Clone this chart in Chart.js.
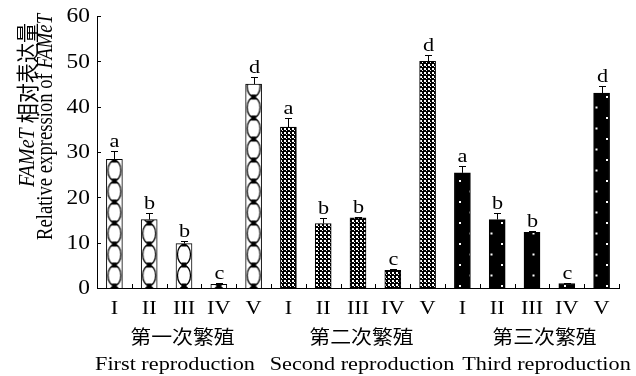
<!DOCTYPE html>
<html>
<head>
<meta charset="utf-8">
<script src="https://cdn.jsdelivr.net/npm/chart.js@4/dist/chart.umd.min.js"></script>
<style>
  html, body { margin: 0; padding: 0; background: #fff; }
  #wrap { width: 636px; height: 376px; }
</style>
</head>
<body>
<div id="wrap"><canvas id="grafico" width="636" height="376"></canvas></div>
<script>
// ---------------- DADOS ----------------
const categories = ["I", "II", "III", "IV", "V", "I", "II", "III", "IV", "V", "I", "II", "III", "IV", "V"];
const groupsZh = ["第一次繁殖", "第二次繁殖", "第三次繁殖"];
const groupsEn = ["First reproduction", "Second reproduction", "Third reproduction"];
const values = [28.4, 15.1, 9.8, 0.8, 45.0, 35.5, 14.2, 15.5, 3.9, 50.0, 25.4, 15.1, 12.3, 1.0, 43.0];
const errors = [1.8, 1.4, 0.5, 0.3, 1.5, 2.0, 1.2, 0.2, 0.2, 1.5, 1.5, 1.4, 0.2, 0.1, 1.5];
const letters = ["a", "b", "b", "c", "d", "a", "b", "b", "c", "d", "a", "b", "b", "c", "d"];
const yTicks = [0, 10, 20, 30, 40, 50, 60];

const SERIF = "'Liberation Serif', 'Times New Roman', serif";
const CJK = "'Noto Sans CJK SC', sans-serif";
const BAR_W = 16;
const SX = 1.17; // a figura original é esticada na horizontal

// ---------------- PADRÕES ----------------
function tile(w, h, desenhar) {
    const c = document.createElement("canvas");
    c.width = w;
    c.height = h;
    desenhar(c.getContext("2d"), w, h);
    return c;
}

// grupo 1: círculos empilhados com quadradinhos pretos
const tileCirculos = tile(BAR_W, 21, (g, w, h) => {
    g.fillStyle = "#fff";
    g.fillRect(0, 0, w, h);
    g.strokeStyle = "#000";
    g.lineWidth = 1.3;
    g.beginPath();
    g.ellipse(w / 2, h / 2, w / 2 - 1.5, h / 2 - 0.5, 0, 0, Math.PI * 2);
    g.stroke();
    g.fillStyle = "#000";
    g.fillRect(w / 2 - 2.5, -2.5, 5, 5);
    g.fillRect(w / 2 - 2.5, h - 2.5, 5, 5);
});

// grupo 2: xadrez miúdo e escuro
const tileXadrez = tile(4, 4, (g) => {
    g.fillStyle = "#000";
    g.fillRect(0, 0, 4, 4);
    g.fillStyle = "#fff";
    g.fillRect(0, 0, 2, 2);
    g.fillRect(2, 2, 1, 1);
});

// grupo 3: preto com pontinhos brancos
const tilePontos = tile(21, 21, (g) => {
    g.fillStyle = "#000";
    g.fillRect(0, 0, 21, 21);
    g.fillStyle = "#fff";
    g.fillRect(0, 0, 2, 2);
    g.fillRect(10.5, 10.5, 2, 2);
});

function preenchimento(c) {
    const i = c.dataIndex;
    const grupo = Math.floor(i / 5);
    const ctx = c.chart.ctx;
    const xs = c.chart.scales.x;
    const ys = c.chart.scales.y;
    if (grupo === 1) return ctx.createPattern(tileXadrez, "repeat");
    if (grupo === 2) {
        const p = ctx.createPattern(tilePontos, "repeat");
        p.setTransform(new DOMMatrix([1, 0, 0, 1, 459, 180]));
        return p;
    }
    const p = ctx.createPattern(tileCirculos, "repeat");
    if (xs && ys) {
        const left = xs.getPixelForValue(i) - BAR_W / 2;
        const base = ys.getPixelForValue(0);
        p.setTransform(new DOMMatrix([1, 0, 0, 1, left, base - 2]));
    }
    return p;
}

// ---------------- TEXTO ----------------
function texto(ctx, txt, x, y, fonte, align, sx) {
    ctx.save();
    ctx.font = fonte;
    ctx.textAlign = align;
    ctx.translate(x, y);
    ctx.scale(sx || SX, 1);
    ctx.fillText(txt, 0, 0);
    ctx.restore();
}

// linha girada com partes em itálico, ajustada a um comprimento
function tituloGirado(ctx, partes, x, yBase, comprimento) {
    let total = 0;
    partes.forEach(([txt, fonte]) => { ctx.font = fonte; total += ctx.measureText(txt).width; });
    ctx.save();
    ctx.translate(x, yBase);
    ctx.rotate(-Math.PI / 2);
    ctx.scale(comprimento / total, SX);
    ctx.textAlign = "left";
    ctx.textBaseline = "middle";
    let px = 0;
    partes.forEach(([txt, fonte]) => {
        ctx.font = fonte;
        ctx.fillText(txt, px, 0);
        px += ctx.measureText(txt).width;
    });
    ctx.restore();
}

// ---------------- DECORAÇÃO ----------------
const decoracao = {
    id: "decoracao",
    afterDatasetsDraw(chart) {
        const ctx = chart.ctx;
        const xs = chart.scales.x;
        const ys = chart.scales.y;
        ctx.save();
        ctx.strokeStyle = "#000";
        ctx.fillStyle = "#000";
        ctx.lineWidth = 1;
        ctx.textBaseline = "alphabetic";
        values.forEach((v, i) => {
            const cx = Math.round(xs.getPixelForValue(i)) + 0.5;
            const yv = ys.getPixelForValue(v);
            const yt = Math.round(ys.getPixelForValue(v + errors[i])) + 0.5;
            ctx.beginPath();
            ctx.moveTo(cx, yv);
            ctx.lineTo(cx, yt);
            ctx.moveTo(cx - 3.5, yt);
            ctx.lineTo(cx + 3.5, yt);
            ctx.stroke();
            texto(ctx, letters[i], cx, yt - 5, "19px " + SERIF, "center");
        });
        ctx.restore();
    },
    afterDraw(chart) {
        const ctx = chart.ctx;
        const xs = chart.scales.x;
        const ys = chart.scales.y;
        const area = chart.chartArea;
        ctx.save();
        ctx.strokeStyle = "#000";
        ctx.fillStyle = "#000";
        ctx.lineWidth = 1;

        // marcas do eixo y (para dentro) e rótulos
        ctx.beginPath();
        yTicks.forEach(t => {
            const py = Math.round(ys.getPixelForValue(t)) + 0.5;
            ctx.moveTo(area.left, py);
            ctx.lineTo(area.left + 4, py);
        });
        // marcas do eixo x entre as barras
        const passo = xs.getPixelForValue(1) - xs.getPixelForValue(0);
        categories.forEach((_, i) => {
            const px = Math.round(xs.getPixelForValue(i) + passo / 2) + 0.5;
            ctx.moveTo(px, area.bottom);
            ctx.lineTo(px, area.bottom - 4);
        });
        ctx.stroke();

        ctx.textBaseline = "middle";
        yTicks.forEach(t => {
            texto(ctx, String(t), area.left - 7, ys.getPixelForValue(t) + 1, "20px " + SERIF, "right");
        });

        // algarismos romanos
        ctx.textBaseline = "alphabetic";
        categories.forEach((c, i) => {
            texto(ctx, c, xs.getPixelForValue(i), area.bottom + 26, "19px " + SERIF, "center");
        });

        // rótulos dos grupos
        const ajusteZh = [-1.5, 3.5, 12.5];
        const ajusteEn = [-9, 4, 14.5];
        groupsZh.forEach((g, k) => {
            const centro = xs.getPixelForValue(k * 5 + 2);
            ctx.textBaseline = "middle";
            texto(ctx, g, centro + ajusteZh[k], 337, "19px " + CJK, "center", 1.1);
            ctx.textBaseline = "alphabetic";
            texto(ctx, groupsEn[k], centro + ajusteEn[k], 370, "19px " + SERIF, "center");
        });

        // título do eixo y (duas linhas, girado)
        tituloGirado(ctx, [["FAMeT", "italic 19px " + SERIF], [" ", "19px " + SERIF], ["相对表达量", "19px " + CJK]], 28, 187, 164);
        tituloGirado(ctx, [["Relative expression of ", "19px " + SERIF], ["FAMeT", "italic 19px " + SERIF]], 46, 240, 226);

        ctx.restore();
    }
};

// ---------------- GRÁFICO ----------------
new Chart(document.getElementById("grafico"), {
    type: "bar",
    data: {
        labels: categories,
        datasets: [{
            data: values,
            backgroundColor: preenchimento,
            borderColor: "#000",
            borderWidth: 1,
            barThickness: BAR_W
        }]
    },
    options: {
        responsive: false,
        animation: false,
        layout: { padding: { left: 0, right: 17, top: 16, bottom: 0 } },
        plugins: { legend: { display: false }, tooltip: { enabled: false } },
        scales: {
            x: {
                offset: true,
                grid: { display: false },
                border: { display: true, color: "#000", width: 1 },
                ticks: { display: false, autoSkip: false },
                afterFit: s => { s.height = 88; }
            },
            y: {
                min: 0,
                max: 60,
                grid: { display: false },
                border: { display: true, color: "#000", width: 1 },
                ticks: { display: false, stepSize: 10 },
                afterFit: s => { s.width = 97; }
            }
        }
    },
    plugins: [decoracao]
});
</script>
</body>
</html>
